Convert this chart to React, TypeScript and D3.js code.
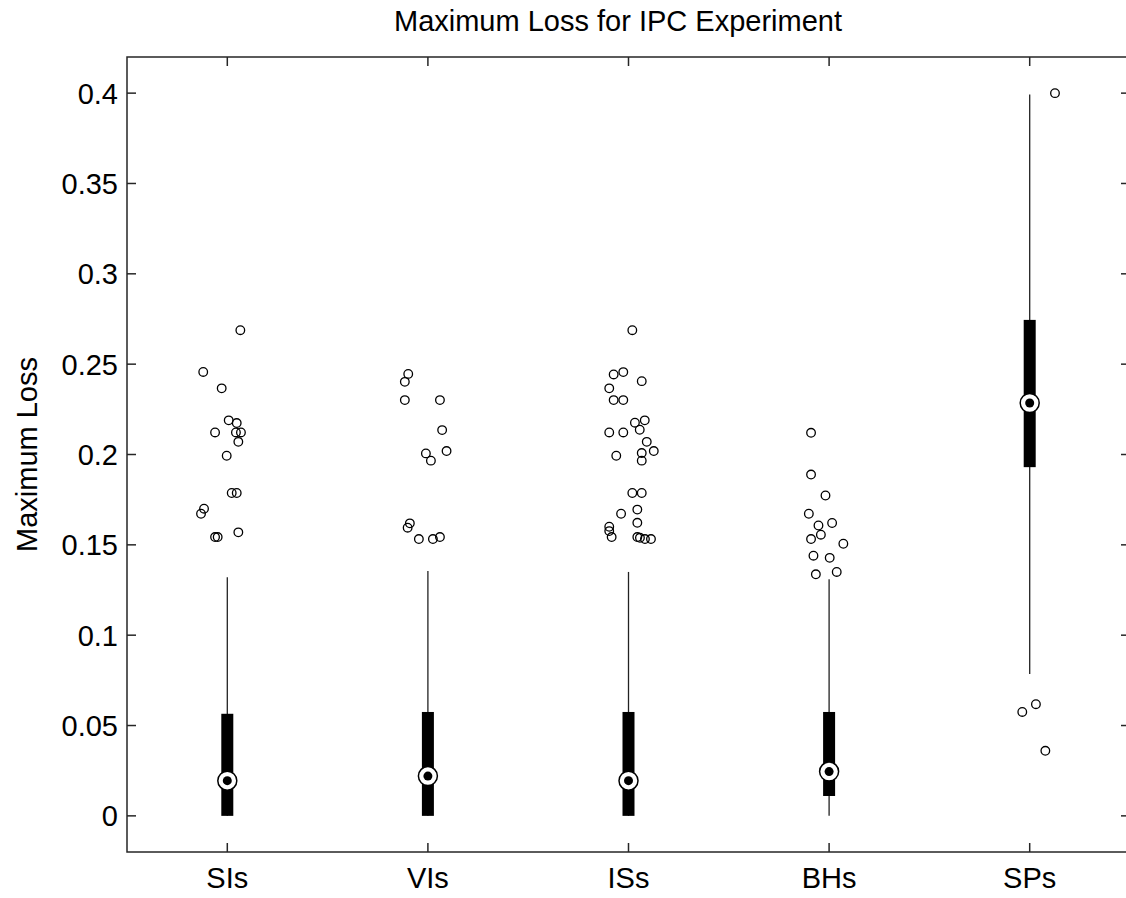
import React from "react";
import * as d3 from "d3";

const categories = ["SIs", "VIs", "ISs", "BHs", "SPs"];
const whiskerLow = [0, 0, 0, 0, 0.0785];
const q1 = [0, 0, 0, 0.011, 0.193];
const medians = [0.0195, 0.022, 0.0195, 0.0245, 0.2285];
const q3 = [0.0565, 0.0575, 0.0575, 0.0575, 0.2745];
const whiskerHigh = [0.132, 0.1355, 0.135, 0.131, 0.3993];

// outliers: [jitter (category units), value]
const outliersSIs: [number, number][] = [
  [0.065, 0.2688], [-0.12, 0.2457], [-0.028, 0.2366], [0.007, 0.2189], [0.047, 0.2174],
  [-0.061, 0.2122], [0.043, 0.2122], [0.068, 0.2122], [0.055, 0.207], [-0.003, 0.1993],
  [0.022, 0.1787], [0.047, 0.1787], [-0.116, 0.17], [-0.131, 0.1672], [0.055, 0.1569],
  [-0.061, 0.1543], [-0.048, 0.1543],
];
const outliersVIs: [number, number][] = [
  [-0.098, 0.2446], [-0.115, 0.2402], [-0.115, 0.2301], [0.06, 0.2301], [0.071, 0.2135],
  [0.093, 0.2019], [-0.01, 0.2006], [0.015, 0.1966], [-0.09, 0.1619], [-0.101, 0.1595],
  [-0.045, 0.1532], [0.025, 0.1532], [0.06, 0.1543],
];
const outliersISs: [number, number][] = [
  [0.019, 0.2688], [-0.074, 0.2443], [-0.026, 0.2456], [0.066, 0.2406], [-0.096, 0.2366],
  [-0.074, 0.2301], [-0.026, 0.2301], [0.032, 0.2176], [0.081, 0.2189], [0.056, 0.2137],
  [-0.096, 0.2122], [-0.026, 0.2122], [0.091, 0.207], [0.126, 0.2019], [0.066, 0.2008],
  [0.066, 0.1966], [-0.061, 0.1993], [0.019, 0.1787], [0.066, 0.1787], [0.044, 0.1695],
  [-0.037, 0.1672], [0.044, 0.1622], [-0.096, 0.16], [-0.096, 0.1576], [-0.084, 0.1543],
  [0.044, 0.1543], [0.057, 0.1539], [0.082, 0.1532], [0.112, 0.1532],
];
const outliersBHs: [number, number][] = [
  [-0.09, 0.212], [-0.09, 0.1889], [-0.018, 0.1773], [-0.101, 0.1672], [0.015, 0.1621],
  [-0.053, 0.1607], [-0.041, 0.1556], [-0.09, 0.1532], [0.071, 0.1506], [-0.078, 0.144],
  [0.003, 0.1428], [0.038, 0.135], [-0.066, 0.1337],
];
const outliersSPs: [number, number][] = [
  [0.126, 0.4], [-0.037, 0.0575], [0.031, 0.0618], [0.078, 0.036],
];
const outliers = [outliersSIs, outliersVIs, outliersISs, outliersBHs, outliersSPs];

const yTicks = [0, 0.05, 0.1, 0.15, 0.2, 0.25, 0.3, 0.35, 0.4];
const title = "Maximum Loss for IPC Experiment";
const yLabel = "Maximum Loss";

const W = 1126;
const H = 898;
const left = 127;
const right = 1130;
const top = 57;
const bottom = 852;
const axisColor = "#262626";
const font = "'Liberation Sans', Arial, Helvetica, sans-serif";
const fs = 29;

export default function App() {
  const x = d3.scaleLinear().domain([0.5, 5.5]).range([left, right]);
  const y = d3.scaleLinear().domain([-0.02, 0.42]).range([bottom, top]);
  const tick = 9;
  const boxW = 12;

  return (
    <svg
      width={W}
      height={H}
      style={{ position: "absolute", left: 0, top: 0, background: "#fff" }}
      fontFamily={font}
    >
      <rect x={0} y={0} width={W} height={H} fill="#fff" />
      {/* axes box */}
      <rect x={left} y={top} width={right - left} height={bottom - top} fill="none" stroke={axisColor} strokeWidth={1.5} />
      {/* y ticks */}
      {yTicks.map((t) => (
        <g key={t}>
          <line x1={left} x2={left + tick} y1={y(t)} y2={y(t)} stroke={axisColor} strokeWidth={1.5} />
          <line x1={right} x2={right - tick} y1={y(t)} y2={y(t)} stroke={axisColor} strokeWidth={1.5} />
          <text x={left - 9} y={y(t)} dy="0.36em" textAnchor="end" fontSize={fs} fill="#000">
            {d3.format("")(t)}
          </text>
        </g>
      ))}
      {/* x ticks */}
      {categories.map((c, i) => (
        <g key={c}>
          <line x1={x(i + 1)} x2={x(i + 1)} y1={bottom} y2={bottom - tick} stroke={axisColor} strokeWidth={1.5} />
          <line x1={x(i + 1)} x2={x(i + 1)} y1={top} y2={top + tick} stroke={axisColor} strokeWidth={1.5} />
          <text x={x(i + 1)} y={888} textAnchor="middle" fontSize={fs} fill="#000">
            {c}
          </text>
        </g>
      ))}
      {/* boxes */}
      {categories.map((c, i) => {
        const cx = x(i + 1);
        return (
          <g key={"b" + c}>
            <line x1={cx} x2={cx} y1={y(whiskerLow[i])} y2={y(whiskerHigh[i])} stroke="#222" strokeWidth={1.3} />
            <rect x={cx - boxW / 2} y={y(q3[i])} width={boxW} height={y(q1[i]) - y(q3[i])} fill="#000" />
            <circle cx={cx} cy={y(medians[i])} r={9.5} fill="#fff" stroke="#000" strokeWidth={1.5} />
            <circle cx={cx} cy={y(medians[i])} r={4.5} fill="#000" />
            {outliers[i].map(([j, v], k) => (
              <circle key={k} cx={x(i + 1 + j)} cy={y(v)} r={4.3} fill="none" stroke="#000" strokeWidth={1.3} />
            ))}
          </g>
        );
      })}
      {/* title */}
      <text x={618} y={31} textAnchor="middle" fontSize={fs} fill="#000">
        {title}
      </text>
      {/* y label */}
      <text
        transform={`translate(37, ${(top + bottom) / 2}) rotate(-90)`}
        textAnchor="middle"
        fontSize={fs}
        fill="#000"
      >
        {yLabel}
      </text>
    </svg>
  );
}
